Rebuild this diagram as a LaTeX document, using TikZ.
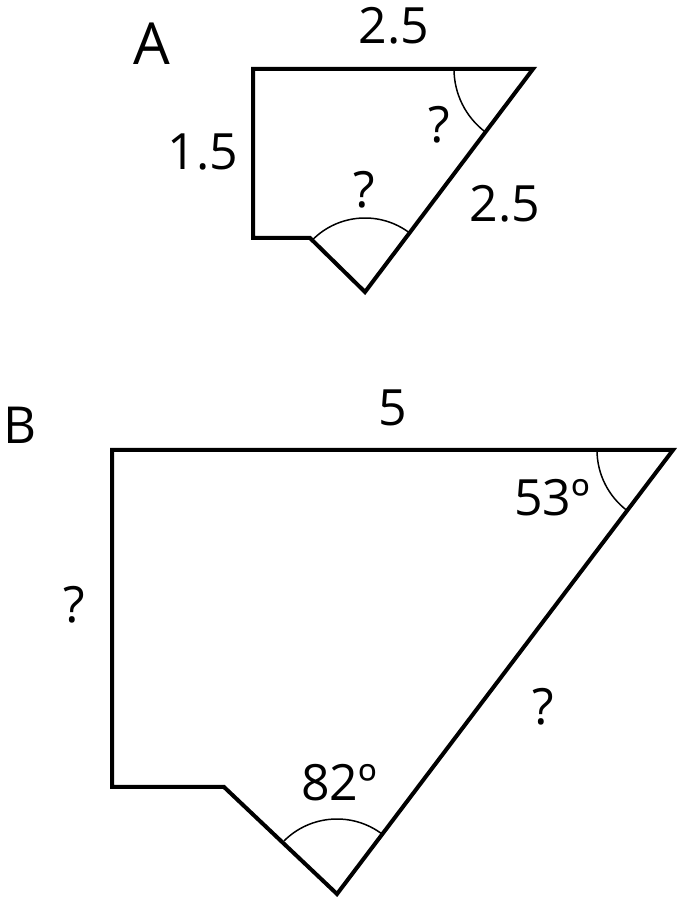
\documentclass[tikz,border=0pt]{standalone}
\usepackage{fontspec}
\setmainfont{Open Sans}
\begin{document}
\begin{tikzpicture}[x=1bp,y=1bp,
  outline/.style={line width=4bp, line join=miter},
  anglearc/.style={line width=1.5bp},
  lbl/.style={inner sep=0pt, font=\fontsize{50bp}{54bp}\selectfont},
  lblA/.style={inner sep=0pt, font=\fontsize{58bp}{62bp}\selectfont},
  lblB/.style={inner sep=0pt, font=\fontsize{51bp}{55bp}\selectfont}]
\useasboundingbox (0,0) rectangle (677,902);
% Shape A
\coordinate (aTL) at (253,833);
\coordinate (aTR) at (533,833);
\coordinate (aBL) at (253,664);
\coordinate (aN) at (310,664);
\coordinate (aP) at (365,610);
\draw[outline] (aTL) -- (aTR) -- (aP) -- (aN) -- (aBL) -- cycle;
\draw[anglearc] ([shift={(180:79)}]aTR) arc[start angle=180, end angle=233, radius=79];
\draw[anglearc] ([shift={(53:74)}]aP) arc[start angle=53, end angle=135, radius=74];
% Shape B
\coordinate (bTL) at (112,452);
\coordinate (bTR) at (673,452);
\coordinate (bBL) at (112,115);
\coordinate (bN) at (224,115);
\coordinate (bP) at (337,8);
\draw[outline] (bTL) -- (bTR) -- (bP) -- (bN) -- (bBL) -- cycle;
\draw[anglearc] ([shift={(180:76)}]bTR) arc[start angle=180, end angle=233, radius=76];
\draw[anglearc] ([shift={(53:75)}]bP) arc[start angle=53, end angle=135, radius=75];
% Labels
\node[lblA] (labA) at (151.5,858) {A};
\node[lbl] (aTop) at (394,876.5) {2.5};
\node[lbl] (aLeft) at (203,750) {1.5};
\node[lbl] (aQ1) at (439,777) {?};
\node[lbl] (aQ2) at (364,712) {?};
\node[lbl] (aSlant) at (505,698) {2.5};
\node[lblB] (labB) at (20,477) {B};
\node[lbl] (bTop) at (393,494) {5};
\node[lbl] (bAng1) at (552,404) {53º};
\node[lbl] (bLeft) at (74,297) {?};
\node[lbl] (bSlant) at (543,195) {?};
\node[lbl] (bAng2) at (339,119.5) {82º};
\end{tikzpicture}
\end{document}
